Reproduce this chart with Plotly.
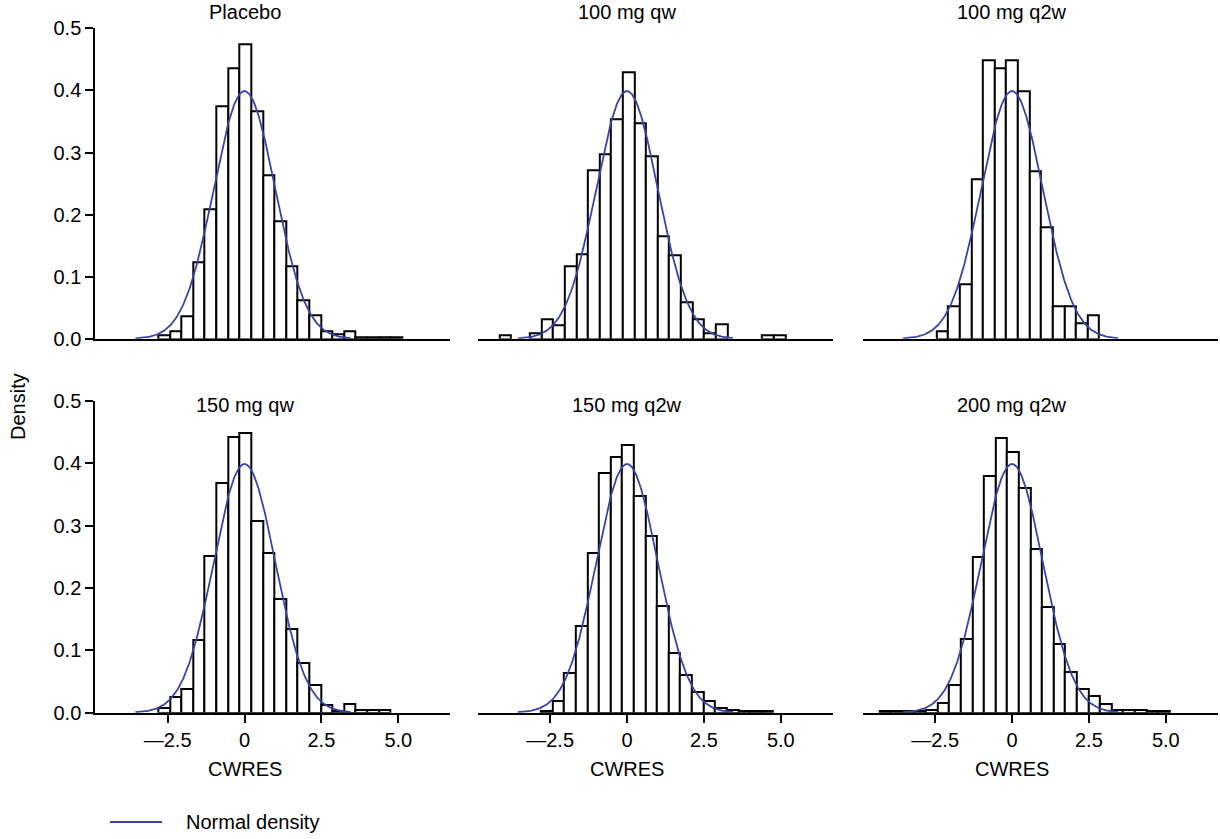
import numpy as np
import plotly.graph_objects as go

W, H = 1220, 839

# ---------------- data ----------------
panel_titles = ["Placebo", "100 mg qw", "100 mg q2w", "150 mg qw", "150 mg q2w", "200 mg q2w"]
bin_width = 0.3773

placebo_start = -2.80
placebo_density = [0.005, 0.012, 0.037, 0.124, 0.208, 0.375, 0.435, 0.475, 0.367, 0.264,
                   0.190, 0.117, 0.062, 0.038, 0.012, 0.008, 0.012, 0.003, 0.003, 0.003, 0.003]

qw100_start = -3.153
qw100_density = [0.009, 0.031, 0.021, 0.116, 0.136, 0.271, 0.297, 0.353, 0.429, 0.347,
                 0.294, 0.165, 0.135, 0.059, 0.032, 0.009, 0.023, None, None, None, 0.005, 0.005]
qw100_outlier_x = [-3.95]
qw100_outlier_density = [0.005]

q2w100_start = -2.449
q2w100_density = [0.012, 0.052, 0.088, 0.257, 0.449, 0.436, 0.449, 0.398, 0.270, 0.179,
                  0.053, 0.052, 0.025, 0.038]

qw150_start = -2.80
qw150_density = [0.008, 0.025, 0.038, 0.116, 0.252, 0.368, 0.442, 0.448, 0.308, 0.256,
                 0.182, 0.135, 0.080, 0.044, 0.013, 0.003, 0.014, 0.005, 0.005, 0.005]

q2w150_start = -2.795
q2w150_density = [0.003, 0.018, 0.064, 0.139, 0.256, 0.384, 0.410, 0.429, 0.347, 0.283,
                  0.171, 0.095, 0.060, 0.034, 0.018, 0.007, 0.004, 0.003, 0.003, 0.003]

q2w200_start = -4.305
q2w200_density = [0.002, 0.002, 0.002, 0.003, 0.004, 0.016, 0.044, 0.119, 0.250, 0.380,
                  0.441, 0.419, 0.361, 0.263, 0.169, 0.111, 0.065, 0.038, 0.027, 0.014,
                  0.005, 0.005, 0.004, 0.003, 0.002]

normal_mean = 0.0
normal_sd = 1.0
normal_x_min, normal_x_max = -3.55, 3.45

x_tick_vals = [-2.5, 0, 2.5, 5.0]
x_tick_text = ["\u20142.5", "0", "2.5", "5.0"]
y_tick_vals = [0.0, 0.1, 0.2, 0.3, 0.4, 0.5]
y_tick_text = ["0.0", "0.1", "0.2", "0.3", "0.4", "0.5"]
legend_label = "Normal density"
x_title = "CWRES"
y_title = "Density"

starts = [placebo_start, qw100_start, q2w100_start, qw150_start, q2w150_start, q2w200_start]
densities = [placebo_density, qw100_density, q2w100_density, qw150_density, q2w150_density, q2w200_density]

# ---------------- geometry ----------------
FONT = "Liberation Sans, Arial, Helvetica, sans-serif"
FS = 20
BLUE = "#3a43a6"
px_per_unit = 30.76
x_range = [-4.85, 6.69]
col_zero_px = [244.5, 627.0, 1012.0]
row_px = [(28.3, 338.8), (401.0, 712.7)]  # (top=0.5, bottom=0)

fig = go.Figure()
layout = dict()

xs_norm = np.linspace(normal_x_min, normal_x_max, 300)
ys_norm = np.exp(-0.5 * ((xs_norm - normal_mean) / normal_sd) ** 2) / (normal_sd * np.sqrt(2 * np.pi))

for i in range(6):
    r, c = divmod(i, 3)
    n = i + 1
    xa = "x" if n == 1 else f"x{n}"
    ya = "y" if n == 1 else f"y{n}"
    dens = densities[i]
    centers = [starts[i] + (k + 0.5) * bin_width for k in range(len(dens))]
    bx = [cx for cx, d in zip(centers, dens) if d is not None]
    by = [d for d in dens if d is not None]
    if i == 1:
        bx = qw100_outlier_x + bx
        by = qw100_outlier_density + by
    fig.add_trace(go.Bar(x=bx, y=by, width=bin_width, xaxis=xa, yaxis=ya,
                         marker=dict(color="white", line=dict(color="black", width=2)),
                         showlegend=False))
    fig.add_trace(go.Scatter(x=xs_norm, y=ys_norm, mode="lines", xaxis=xa, yaxis=ya,
                             line=dict(color=BLUE, width=1.8), showlegend=False,
                             name=legend_label))

    z = col_zero_px[c]
    x0 = (z + x_range[0] * px_per_unit) / W
    x1 = (z + x_range[1] * px_per_unit) / W
    top, bot = row_px[r]
    y0 = (H - bot) / H
    y1 = (H - top) / H
    bottom = r == 1
    left = c == 0
    layout["xaxis" if n == 1 else f"xaxis{n}"] = dict(
        domain=[x0, x1], range=x_range, anchor=ya, showgrid=False, zeroline=False,
        showline=True, linecolor="black", linewidth=2, automargin=False,
        ticks="outside" if bottom else "", ticklen=8, tickwidth=2, tickcolor="black",
        tickvals=x_tick_vals, ticktext=x_tick_text, showticklabels=bottom,
        tickfont=dict(family=FONT, size=FS, color="black"), fixedrange=True)
    layout["yaxis" if n == 1 else f"yaxis{n}"] = dict(
        domain=[y0, y1], range=[0, 0.5], anchor=xa, showgrid=False, zeroline=False,
        showline=left, linecolor="black", linewidth=2, automargin=False,
        ticks="outside" if left else "", ticklen=8, tickwidth=2, tickcolor="black",
        tickvals=y_tick_vals, ticktext=y_tick_text, showticklabels=left,
        tickfont=dict(family=FONT, size=FS, color="black"), fixedrange=True)

annotations = []
title_y_px = [12, 405]
for i in range(6):
    r, c = divmod(i, 3)
    n = i + 1
    xa = "x" if n == 1 else f"x{n}"
    annotations.append(dict(text=panel_titles[i], xref=xa, x=0, yref="paper",
                            y=(H - title_y_px[r]) / H, xanchor="center", yanchor="middle",
                            showarrow=False, font=dict(family=FONT, size=FS, color="black")))
    if r == 1:
        annotations.append(dict(text=x_title, xref=xa, x=0, yref="paper",
                                y=(H - 769) / H, xanchor="center", yanchor="middle",
                                showarrow=False, font=dict(family=FONT, size=FS, color="black")))
annotations.append(dict(text=y_title, xref="paper", x=18 / W, yref="paper", y=(H - 407) / H,
                        xanchor="center", yanchor="middle", textangle=-90, showarrow=False,
                        font=dict(family=FONT, size=FS, color="black")))
annotations.append(dict(text=legend_label, xref="paper", x=184 / W, yref="paper", y=(H - 822) / H,
                        xanchor="left", yanchor="middle", showarrow=False,
                        font=dict(family=FONT, size=FS, color="black")))

shapes = [dict(type="line", xref="paper", yref="paper", x0=110 / W, x1=162 / W,
               y0=(H - 822) / H, y1=(H - 822) / H, line=dict(color=BLUE, width=2))]

fig.update_layout(**layout)
fig.update_layout(width=W, height=H, margin=dict(l=0, r=0, t=0, b=0, autoexpand=False),
                  paper_bgcolor="white", plot_bgcolor="white", bargap=0,
                  annotations=annotations, shapes=shapes, showlegend=False,
                  font=dict(family=FONT, size=FS, color="black"))

fig.write_html("out.html")
